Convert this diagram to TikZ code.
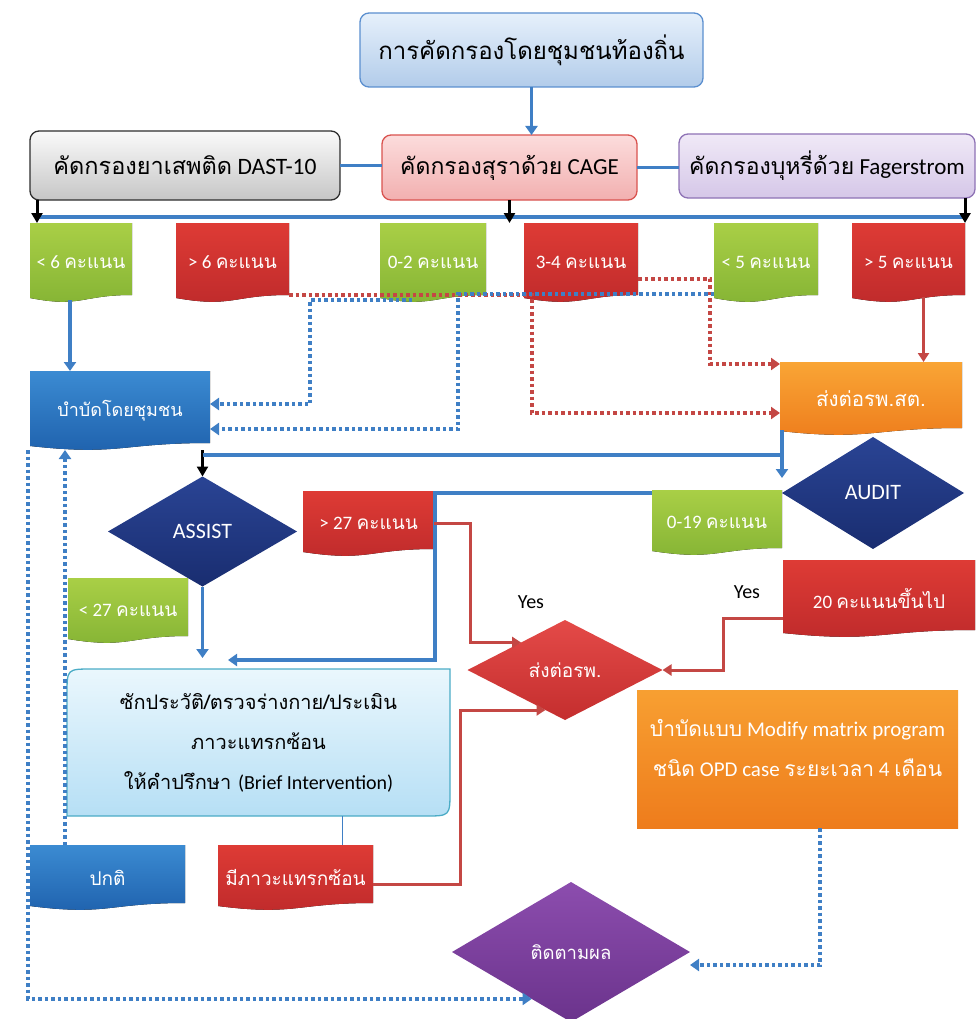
\documentclass[tikz,border=0pt]{standalone}
\usepackage{fontspec}
\setmainfont{Carlito}
\newfontfamily\thf[Script=Thai]{Loma}
\usetikzlibrary{arrows.meta,shapes.geometric,calc,backgrounds}
\definecolor{lnblue}{HTML}{3F7FC5}
\definecolor{lnred}{HTML}{C44744}
\definecolor{gtop}{HTML}{A9CF46}\definecolor{gbot}{HTML}{84B334}
\definecolor{rtop}{HTML}{DE3B35}\definecolor{rbot}{HTML}{BE2A2B}
\definecolor{btop}{HTML}{3B8BD2}\definecolor{bbot}{HTML}{1E60AC}
\definecolor{otop}{HTML}{F9A535}\definecolor{obot}{HTML}{EE7C1C}
\definecolor{ntop}{HTML}{2A4494}\definecolor{nbot}{HTML}{192D70}
\definecolor{dtop}{HTML}{E44A48}\definecolor{dbot}{HTML}{C42E2E}
\definecolor{ptop}{HTML}{8C4DAE}\definecolor{pbot}{HTML}{6B338C}
\definecolor{tt1}{HTML}{E6F0FB}\definecolor{tt2}{HTML}{B2CCEA}\definecolor{ttd}{HTML}{5B8FCF}
\definecolor{ga1}{HTML}{FAFAFA}\definecolor{ga2}{HTML}{C6C6C6}\definecolor{gad}{HTML}{2E2E2E}
\definecolor{pk1}{HTML}{FCDCDC}\definecolor{pk2}{HTML}{F2B0B0}\definecolor{pkd}{HTML}{D9534F}
\definecolor{lv1}{HTML}{F0E9F7}\definecolor{lv2}{HTML}{D5C7E8}\definecolor{lvd}{HTML}{8E72B5}
\definecolor{lb1}{HTML}{EAF7FD}\definecolor{lb2}{HTML}{B6DFF5}\definecolor{lbd}{HTML}{4BACC6}
\tikzset{
  every node/.style={inner sep=0pt,outer sep=0pt},
  tbox/.style={rounded corners=9pt,line width=1.3pt},
  docbox/.style 2 args={text=white,path picture={
    \fill[top color=#1,bottom color=#2]
      (path picture bounding box.north west) -- (path picture bounding box.north east)
      -- ([yshift=7pt]path picture bounding box.south east)
      .. controls ([yshift=7pt]path picture bounding box.south) and ([yshift=-6pt]path picture bounding box.south)
      .. ([yshift=4pt]path picture bounding box.south west) -- cycle;}},
  fillbox/.style n args={3}{path picture={
    \fill[top color=#1,bottom color=#2] (path picture bounding box.south west)
      rectangle ([yshift=-#3]path picture bounding box.north east);}},
  lbl/.style={font=\fontsize{19}{22}\selectfont},
  dia/.style={diamond,text=white,font=\fontsize{22}{24}\selectfont},
  bline/.style={draw=lnblue,line width=3.5pt},
  barrow/.style={bline,-{Triangle[width=12pt,length=9pt]}},
  rline/.style={draw=lnred,line width=3pt},
  rarrow/.style={rline,-{Triangle[width=11pt,length=9pt]}},
  karrow/.style={draw=black,line width=3pt,-{Triangle[width=11pt,length=10pt]}},
  bdot/.style={draw=lnblue,line width=3.5pt,dash pattern=on 3.5pt off 3pt,-{Triangle[width=12pt,length=9pt]}},
  rdot/.style={draw=lnred,line width=3.5pt,dash pattern=on 3.5pt off 3pt,-{Triangle[width=12pt,length=9pt]}},
}
\begin{document}
\begin{tikzpicture}[x=1pt,y=-1pt]
\useasboundingbox (0,0) rectangle (978,1019);
% top boxes
\node[tbox,draw=ttd,top color=tt1,bottom color=tt2,minimum width=343pt,minimum height=74pt,font=\fontsize{24}{28}\thf] (title) at (531.5,50) {การคัดกรองโดยชุมชนท้องถิ่น};
\node[tbox,draw=gad,top color=ga1,bottom color=ga2,minimum width=310pt,minimum height=69pt,font=\fontsize{23.5}{26}\selectfont] (dast) at (185,165.5) {{\thf คัดกรองยาเสพติด} DAST-10};
\node[tbox,draw=pkd,top color=pk1,bottom color=pk2,minimum width=255pt,minimum height=65pt,font=\fontsize{23}{26}\selectfont] (cage) at (509.5,167.5) {{\thf คัดกรองสุราด้วย} CAGE};
\node[tbox,draw=lvd,top color=lv1,bottom color=lv2,minimum width=296pt,minimum height=64pt,font=\fontsize{23}{26}\selectfont] (fager) at (827,166) {{\thf คัดกรองบุหรี่ด้วย} Fagerstrom};
% score boxes
\node[docbox={gtop}{gbot},lbl,minimum width=102pt,minimum height=79pt] (lt6) at (81,262.5) {< 6 {\thf คะแนน}};
\node[docbox={rtop}{rbot},lbl,minimum width=113pt,minimum height=79pt] (gt6) at (232.5,262.5) {> 6 {\thf คะแนน}};
\node[docbox={gtop}{gbot},lbl,minimum width=106pt,minimum height=79pt] (c02) at (433,262.5) {0-2 {\thf คะแนน}};
\node[docbox={rtop}{rbot},lbl,minimum width=114pt,minimum height=79pt] (c34) at (581,262.5) {3-4 {\thf คะแนน}};
\node[docbox={gtop}{gbot},lbl,minimum width=104pt,minimum height=79pt] (lt5) at (766,262.5) {< 5 {\thf คะแนน}};
\node[docbox={rtop}{rbot},lbl,minimum width=113pt,minimum height=79pt] (gt5) at (908.5,262.5) {> 5 {\thf คะแนน}};
% treatment
\node[docbox={btop}{bbot},minimum width=180pt,minimum height=79pt,font=\fontsize{18}{20}\thf] (bambat) at (120,410.5) {บำบัดโดยชุมชน};
\node[docbox={otop}{obot},minimum width=182pt,minimum height=73pt,font=\fontsize{20.5}{22}\thf] (songstat) at (871,398.5) {ส่งต่อรพ.สต.};
% assist / audit
\node[dia,top color=ntop,bottom color=nbot,minimum width=189pt,minimum height=110pt,aspect=1.72] (assist) at (202.5,531.5) {ASSIST};
\node[dia,top color=ntop,bottom color=nbot,minimum width=182pt,minimum height=112pt,aspect=1.62] (audit) at (873,493) {AUDIT};
\node[docbox={rtop}{rbot},lbl,minimum width=131pt,minimum height=65pt] (gt27) at (368.5,523.5) {> 27 {\thf คะแนน}};
\node[docbox={gtop}{gbot},lbl,minimum width=120pt,minimum height=65pt] (lt27) at (128,610.5) {< 27 {\thf คะแนน}};
\node[docbox={gtop}{gbot},lbl,minimum width=130pt,minimum height=65pt] (r019) at (717,522.5) {0-19 {\thf คะแนน}};
\node[docbox={rtop}{rbot},lbl,minimum width=192pt,minimum height=77pt] (r20) at (879,598.5) {20 {\thf คะแนนขึ้นไป}};
\node[dia,top color=dtop,bottom color=dbot,minimum width=195pt,minimum height=100pt,aspect=1.95,font=\fontsize{19}{22}\thf] (songrp) at (565,670) {ส่งต่อรพ.};
\node[font=\fontsize{20}{22}\selectfont] (yes1) at (531,602) {Yes};
\node[font=\fontsize{20}{22}\selectfont] (yes2) at (747,592) {Yes};
% big boxes
\node[align=center,minimum width=383pt,minimum height=147pt,font=\fontsize{20}{40}\thf] (bigbox) at (258.5,742.5) {ซักประวัติ/ตรวจร่างกาย/ประเมิน\\ภาวะแทรกซ้อน\\ให้คำปรึกษา {\rmfamily (Brief Intervention)}};
\begin{scope}[on background layer]
\path[draw=lbd,line width=1.3pt,top color=lb1,bottom color=lb2]
  (bigbox.north east) -- ([yshift=25pt]bigbox.south east) .. controls (bigbox.south east) .. ([xshift=-25pt]bigbox.south east)
  -- (bigbox.south west) -- ([yshift=-25pt]bigbox.north west) .. controls (bigbox.north west) .. ([xshift=25pt]bigbox.north west) -- cycle;
\end{scope}
\node[fillbox={otop}{obot}{22pt},align=center,text=white,minimum width=321pt,minimum height=160pt,font=\fontsize{21}{40}\selectfont] (modify) at (797.5,748) {{\thf บำบัดแบบ} Modify matrix program\\{\thf ชนิด} OPD case {\thf ระยะเวลา} 4 {\thf เดือน}};
\node[docbox={btop}{bbot},minimum width=155pt,minimum height=65pt,font=\fontsize{19}{22}\thf] (normal) at (107.5,877.5) {ปกติ};
\node[docbox={rtop}{rbot},minimum width=155pt,minimum height=65pt,font=\fontsize{19}{22}\thf] (comp) at (295.5,877.5) {มีภาวะแทรกซ้อน};
\node[dia,top color=ptop,bottom color=pbot,minimum width=238pt,minimum height=140pt,aspect=1.7,font=\fontsize{18.5}{20}\thf] (follow) at (571,952) {ติดตามผล};
% coordinates
\coordinate (busL) at (35,217);
\coordinate (busR) at (967,217);
\coordinate (r1) at (532,295);
\coordinate (r2) at (710,279);
\coordinate (b1) at (310,300);
\coordinate (b2) at (458,294);
\coordinate (j1) at (202.5,455);
\coordinate (j2) at (782,455);
\coordinate (a1) at (782,478);
\coordinate (u1) at (435,493);
\coordinate (u2) at (435,660);
\coordinate (u3) at (228,660);
\coordinate (r3) at (470,523.5);
\coordinate (r4) at (723,618);
\coordinate (r5) at (460,884);
% connectors top
\draw[barrow] (title.south) -- (title.south |- cage.north);
\draw[bline] (dast.east) -- (dast.east -| cage.west);
\draw[bline] (cage.east) -- (cage.east -| fager.west);
\draw[bline] (busL) -- (busR);
\draw[karrow] ([xshift=7pt]dast.south west) -- ([xshift=7pt]dast.south west |- lt6.north);
\draw[karrow] (cage.south) -- (cage.south |- c34.north);
\draw[karrow] ([xshift=-10pt]fager.south east) -- ([xshift=-10pt]fager.south east |- gt5.north);
\draw[barrow] ([xshift=-11pt,yshift=2pt]lt6.south) -- ([xshift=-11pt]lt6.south |- bambat.north);
\draw[rarrow,line width=3.5pt] ([xshift=15pt,yshift=5pt]gt5.south) -- ([xshift=15pt]gt5.south |- songstat.north);
% dotted
\draw[rdot] ([yshift=7pt]gt6.south east) -- (r1) |- ([yshift=-14.5pt]songstat.west);
\draw[rdot] ([yshift=-16.5pt]c34.east) -- (r2) |- ([yshift=34.5pt]songstat.west);
\draw[bdot] ([xshift=-21pt,yshift=2pt]c02.south) -- (b1) |- ([yshift=6.5pt]bambat.east);
\draw[bdot] ([yshift=8pt]lt5.south west) -- (b2) |- ([yshift=-18.5pt]bambat.east);
% middle
\draw[karrow] (assist.north |- bambat.south) -- (assist.north);
\draw[bline] (j1) -- (j2);
\draw[barrow] ([xshift=2pt,yshift=5pt]songstat.south west) -- (a1);
\draw[barrow] ([yshift=-3pt]r019.north west) -- (u1) -- (u2) -- (u3);
\draw[barrow] (assist.south) -- ([yshift=11pt]assist.south |- bigbox.north);
\draw[rarrow] (gt27.east) -- (r3) |- ($(songrp.west)!0.55!(songrp.north)$);
\draw[rarrow] ([yshift=-19.5pt]r20.west) -- (r4) |- (songrp.east);
\draw[rarrow] ([yshift=-6.5pt]comp.east) -- (r5) |- ($(songrp.west)!0.8!(songrp.south)$);
\draw[draw=lnblue,line width=1pt] ([xshift=46.5pt]comp.north) -- ([xshift=46.5pt]comp.north |- bigbox.south);
% bottom dotted
\draw[bdot] ([xshift=-42.5pt]normal.north) -- ([xshift=-42.5pt]normal.north |- bambat.south);
\draw[bdot] ([xshift=-2pt]bambat.south west) |- ($(follow.west)!0.67!(follow.south)$);
\draw[bdot] ([xshift=22.5pt]modify.south) |- ([yshift=-13pt]follow.east);
\end{tikzpicture}
\end{document}
